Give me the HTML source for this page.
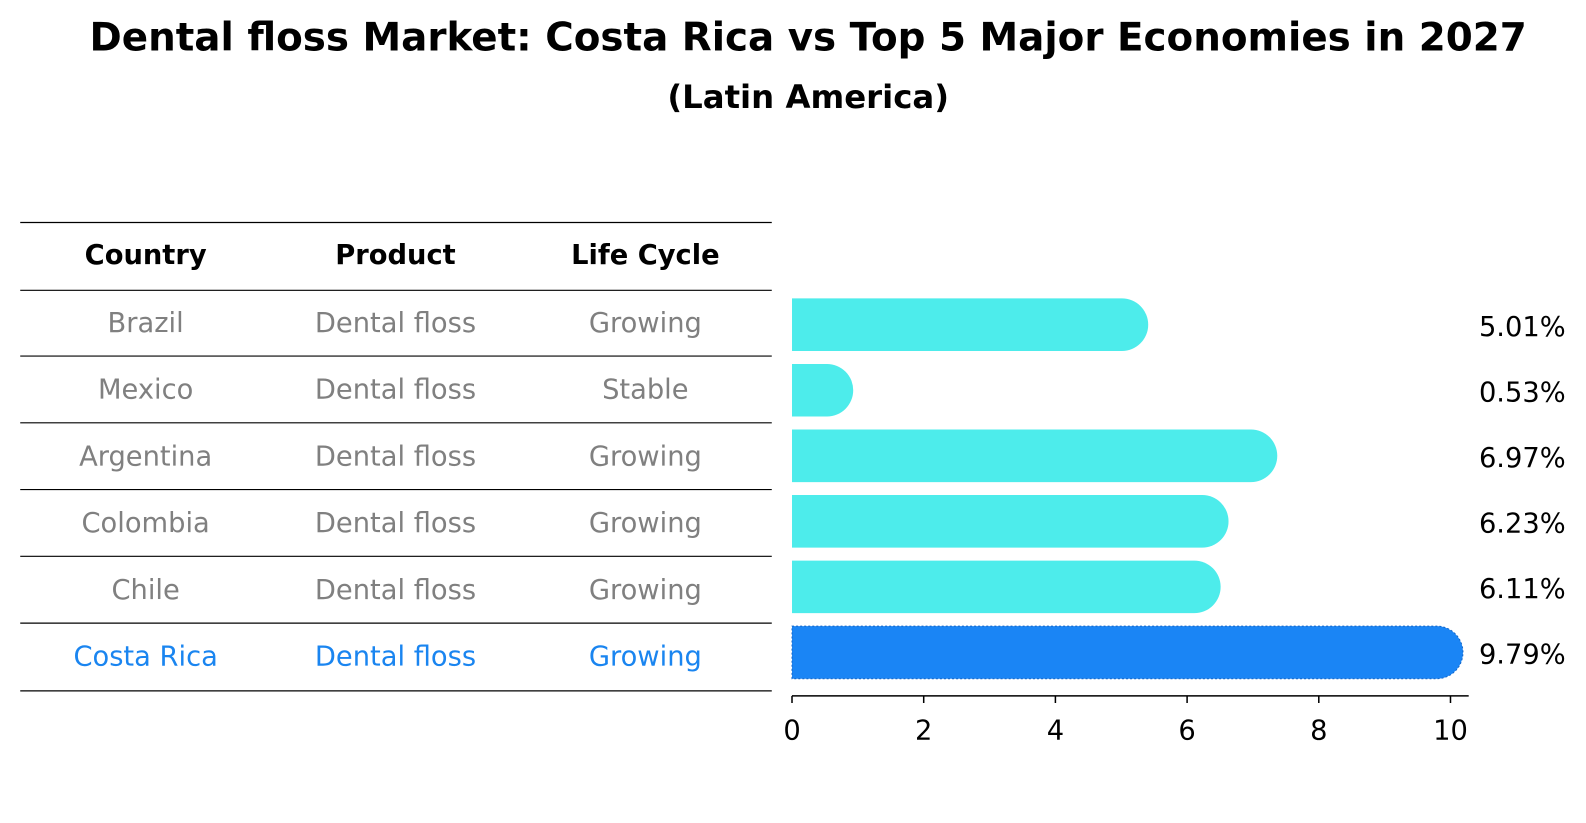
<!DOCTYPE html>
<html><head><meta charset="utf-8"><style>
html,body{margin:0;padding:0;background:#fff;overflow:hidden;width:1586px;height:823px;}
svg{display:block;}
svg text{font-family:"DejaVu Sans","Liberation Sans",sans-serif;}
</style></head><body>
<svg id="c" width="1586" height="823" xmlns="http://www.w3.org/2000/svg">
<g transform="scale(1.0115)">
<text x="799" y="50" text-anchor="middle" font-size="38.4" font-weight="bold">Dental floss Market: Costa Rica vs Top 5 Major Economies in 2027</text>
<text x="799" y="107" text-anchor="middle" font-size="32" font-weight="bold">(Latin America)</text>
<g id="table"></g>
<g id="bars"></g>
</g>
</svg>
<script>
const countries=["Brazil","Mexico","Argentina","Colombia","Chile","Costa Rica"];
const products=["Dental floss","Dental floss","Dental floss","Dental floss","Dental floss","Dental floss"];
const cycles=["Growing","Stable","Growing","Growing","Growing","Growing"];
const values=[5.01,0.53,6.97,6.23,6.11,9.79];
const ticks=[0,2,4,6,8,10];
const NS="http://www.w3.org/2000/svg";
const tbl=document.getElementById('table'),bars=document.getElementById('bars');
function mk(p,tag,a,txt){const e=document.createElementNS(NS,tag);for(const k in a)e.setAttribute(k,a[k]);if(txt!==undefined)e.textContent=txt;p.appendChild(e);return e;}
const x=v=>783+v*65.1;
const rowY=i=>321+i*64.8;
const lines=[220,287,352,418,484,550,616,683];
lines.forEach((ly,i)=>{const l=mk(tbl,'line',{x1:20,x2:763,y1:ly,y2:ly,stroke:'#000','stroke-width':1.2});

});
const cols=[144,391,638];
["Country","Product","Life Cycle"].forEach((h,j)=>{const t=mk(tbl,'text',{x:cols[j],y:261,'text-anchor':'middle','font-size':27,'font-weight':'bold'},h);

});
countries.forEach((c,i)=>{const cy=[318,384,450,516,582,648][i];const col=i===5?'#1a85f0':'#808080';
[c,products[i],cycles[i]].forEach((s,j)=>{const t=mk(tbl,'text',{x:cols[j],y:cy+10,'text-anchor':'middle','font-size':27,fill:col},s);

});});
values.forEach((v,i)=>{const cy=rowY(i),h=52,r=26,last=i===values.length-1;
const d=`M${x(0)},${cy-h/2} L${x(v)},${cy-h/2} A${r},${r} 0 0 1 ${x(v)},${cy+h/2} L${x(0)},${cy+h/2} Z`;
const b=mk(bars,'path',{d:d,fill:last?'#1a85f5':'#4deceb',stroke:last?'#1566c8':'none','stroke-dasharray':last?'2,2':'none','stroke-width':1});


const t=mk(bars,'text',{x:1505,y:cy+11,'text-anchor':'middle','font-size':27},v.toFixed(2)+'%');

});
const ax=mk(bars,'line',{x1:783,x2:1452,y1:688,y2:688,stroke:'#000','stroke-width':1.5});


ticks.forEach(v=>{const tl=mk(bars,'line',{x1:x(v),x2:x(v),y1:688,y2:695,stroke:'#000','stroke-width':1.5});


const t=mk(bars,'text',{x:x(v),y:731,'text-anchor':'middle','font-size':27},String(v));

});
</script>
</body></html>
